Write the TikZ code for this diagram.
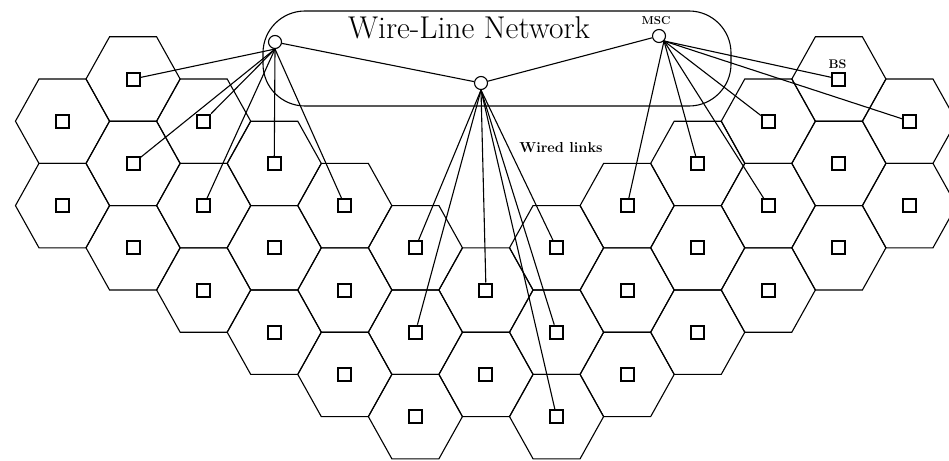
\documentclass[tikz,border=0pt]{standalone}
\usepackage{tikz}

\begin{document}
\begin{tikzpicture}[x=1pt,y=-1pt,line width=1.1pt,
        bs/.style={draw,line width=2pt,minimum size=13pt,inner sep=0pt},
        msc/.style={draw,circle,minimum size=13pt,inner sep=0pt}]
        \useasboundingbox (0,0) rectangle (949,460);
        \clip (0,0) rectangle (949,460);
        \foreach \c/\ks in {0/{1,3},1/{0,2,4},2/{1,3,5},3/{2,4,6},4/{3,5,7},5/{4,6,8},6/{5,7},7/{4,6,8},8/{3,5,7},9/{2,4,6},10/{1,3,5},11/{0,2,4},12/{1,3}}
            \foreach \k in \ks {
                \node[bs] (bs-\c-\k) at ({62.5+70.58*\c},{79+42.2*\k}) {};
                \draw (bs-\c-\k.center) ++(-47.05,0) -- ++(23.52,-42.2) -- ++(47.05,0) -- ++(23.52,42.2) -- ++(-23.52,42.2) -- ++(-47.05,0) -- cycle;
            }
        \draw[rounded corners=42pt] (263,11) rectangle (731,106);
        \node[anchor=base,font=\fontsize{31.5}{33}\selectfont] at (469,38) {Wire-Line Network};
        \node[msc] (msc1) at (275,42) {};
        \node[msc] (msc2) at (481,83) {};
        \node[msc] (msc3) at (659,36) {};
        \node[font=\bfseries\fontsize{11.5}{12}\selectfont] at (656,21) {MSC};
        \node[font=\bfseries\fontsize{12.5}{13}\selectfont] at (837.5,64) {BS};
        \node[font=\bfseries\fontsize{14.5}{15}\selectfont] at (561,148) {Wired links};
        \draw (msc1) -- (msc2) -- (msc3);
        \foreach \b in {1-0,2-1,1-2,2-3,3-2,4-3} \draw (msc1.south) -- (bs-\b);
        \foreach \b in {5-4,5-6,6-5,7-4,7-6,7-8} \draw (msc2.south) -- (bs-\b);
        \foreach \b in {8-3,9-2,10-1,10-3,11-0,12-1} \draw (msc3.south east) -- (bs-\b);
\end{tikzpicture}
\end{document}
